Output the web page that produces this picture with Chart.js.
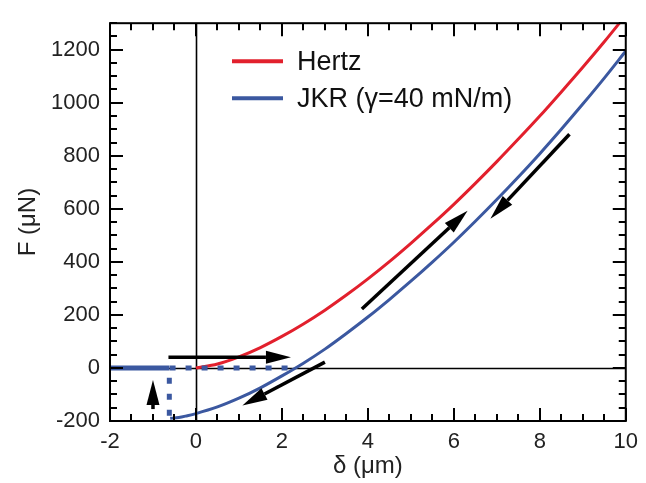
<!DOCTYPE html>
<html>
<head>
<meta charset="utf-8">
<script src="https://cdn.jsdelivr.net/npm/chart.js@4.4.1/dist/chart.umd.min.js"></script>
<style>
  html, body { margin: 0; padding: 0; background: #fff; }
</style>
</head>
<body>
<canvas id="chart" width="646" height="483"></canvas>
<script>
// values (delta in um, F in uN)
const hertzX = [0, 0.5, 1, 1.5, 2, 2.5, 3, 3.5, 4, 4.5, 5, 5.5, 6, 6.5, 7, 7.5, 8, 8.5, 9, 9.5, 10];
const hertzF = [0, 15, 42, 77, 119, 166, 218, 275, 336, 401, 470, 542, 617, 696, 778, 863, 950, 1041, 1134, 1230, 1330];

const jkrX = [-0.6, -0.4, -0.2, 0, 0.5, 1, 1.5, 2, 2.5, 3, 3.5, 4, 4.5, 5, 5.5, 6, 6.5, 7, 7.5, 8, 8.5, 9, 9.5, 10];
const jkrF = [-190, -187, -180, -172, -147, -114, -75, -30, 18, 71, 130, 192, 258, 327, 399, 474, 553, 635, 720, 808, 900, 995, 1093, 1195];

// jump-in path (dotted) and the free-approach line at F = 0
const jumpX = [-0.62, -0.62, 2.3];
const jumpF = [-180, 0, 0];
const baseX = [-2, -0.62];
const baseF = [0, 0];

// arrows: [x0, y0, x1 (tip), y1 (tip)]
const arrows = [
  [-0.64, 40, 2.21, 40],
  [-1.0, -155, -1.0, -45],
  [3.0, 22, 1.08, -142],
  [3.86, 222, 6.32, 593],
  [8.69, 881, 6.85, 563],
];

const xTicks = [-2, 0, 2, 4, 6, 8, 10];
const yTicks = [-200, 0, 200, 400, 600, 800, 1000, 1200];
const xMinorStep = 0.5;
const yMinorStep = 50;

const legendItems = [
  { label: "Hertz", color: "#e2202d" },
  { label: "JKR (\u03b3=40 mN/m)", color: "#3b58a0" },
];

const FONT = "'Liberation Sans', Arial, sans-serif";

function pts(xs, ys) {
  return xs.map((x, i) => ({ x, y: ys[i] }));
}

const decor = {
  id: "decor",
  beforeDatasetsDraw(chart) {
    const { ctx, chartArea: a, scales: { x, y } } = chart;
    ctx.save();
    ctx.strokeStyle = "#000";
    ctx.lineWidth = 1.6;
    ctx.beginPath();
    const x0 = Math.round(x.getPixelForValue(0)) + 0.5;
    const y0 = Math.round(y.getPixelForValue(0)) + 0.5;
    ctx.moveTo(x0, a.top);
    ctx.lineTo(x0, a.bottom);
    ctx.moveTo(a.left, y0);
    ctx.lineTo(a.right, y0);
    ctx.stroke();
    ctx.restore();
  },
  afterDatasetsDraw(chart) {
    const { ctx, chartArea: a, scales: { x, y } } = chart;
    ctx.save();

    // arrows
    ctx.strokeStyle = "#000";
    ctx.fillStyle = "#000";
    ctx.lineWidth = 3.5;
    arrows.forEach(([ax, ay, bx, by]) => {
      const px0 = x.getPixelForValue(ax), py0 = y.getPixelForValue(ay);
      const px1 = x.getPixelForValue(bx), py1 = y.getPixelForValue(by);
      const ang = Math.atan2(py1 - py0, px1 - px0);
      const hl = 25, hw = 6.5;
      const bxp = px1 - hl * Math.cos(ang), byp = py1 - hl * Math.sin(ang);
      ctx.beginPath();
      ctx.moveTo(px0, py0);
      ctx.lineTo(bxp, byp);
      ctx.stroke();
      ctx.beginPath();
      ctx.moveTo(px1, py1);
      ctx.lineTo(bxp + hw * Math.sin(ang), byp - hw * Math.cos(ang));
      ctx.lineTo(bxp - hw * Math.sin(ang), byp + hw * Math.cos(ang));
      ctx.closePath();
      ctx.fill();
    });

    // legend
    ctx.font = "27px " + FONT;
    ctx.textBaseline = "middle";
    legendItems.forEach((it, i) => {
      const ly = a.top + 38 + i * 37;
      ctx.strokeStyle = it.color;
      ctx.lineWidth = 4;
      ctx.beginPath();
      ctx.moveTo(a.left + 122, ly);
      ctx.lineTo(a.left + 173, ly);
      ctx.stroke();
      ctx.fillStyle = "#111";
      ctx.fillText(it.label, a.left + 187, ly + 1);
    });

    // frame
    ctx.strokeStyle = "#000";
    ctx.lineWidth = 2;
    ctx.strokeRect(a.left, a.top, a.right - a.left, a.bottom - a.top);

    // inward ticks on all four sides
    ctx.lineWidth = 2;
    ctx.beginPath();
    for (let v = x.min; v <= x.max + 1e-9; v += xMinorStep) {
      const px = Math.round(x.getPixelForValue(v));
      const len = xTicks.includes(Math.round(v * 100) / 100) ? 13 : 7;
      ctx.moveTo(px, a.bottom);
      ctx.lineTo(px, a.bottom - len);
      ctx.moveTo(px, a.top);
      ctx.lineTo(px, a.top + len);
    }
    for (let v = y.min; v <= y.max + 1e-9; v += yMinorStep) {
      const py = Math.round(y.getPixelForValue(v));
      const len = yTicks.includes(v) ? 13 : 7;
      ctx.moveTo(a.left, py);
      ctx.lineTo(a.left + len, py);
      ctx.moveTo(a.right, py);
      ctx.lineTo(a.right - len, py);
    }
    ctx.stroke();
    ctx.restore();
  },
};

new Chart(document.getElementById("chart"), {
  type: "scatter",
  data: {
    datasets: [
      {
        label: "base",
        data: pts(baseX, baseF),
        showLine: true,
        borderColor: "#3b58a0",
        borderWidth: 5,
        pointRadius: 0,
        borderCapStyle: "butt",
      },
      {
        label: "jump",
        data: pts(jumpX, jumpF),
        showLine: true,
        borderColor: "#3b58a0",
        borderWidth: 5,
        borderDash: [6, 10],
        pointRadius: 0,
      },
      {
        label: "Hertz",
        data: pts(hertzX, hertzF),
        showLine: true,
        borderColor: "#e2202d",
        borderWidth: 3,
        pointRadius: 0,
        cubicInterpolationMode: "monotone",
      },
      {
        label: "JKR",
        data: pts(jkrX, jkrF),
        showLine: true,
        borderColor: "#3b58a0",
        borderWidth: 3,
        pointRadius: 0,
        cubicInterpolationMode: "monotone",
      },
    ],
  },
  options: {
    responsive: false,
    animation: false,
    devicePixelRatio: 1,
    layout: { padding: { left: 0, top: 15, right: 14, bottom: 0 } },
    plugins: { legend: { display: false }, tooltip: { enabled: false } },
    scales: {
      x: {
        type: "linear",
        min: -2,
        max: 10,
        grid: { display: false, drawTicks: false },
        border: { display: false },
        afterBuildTicks: (s) => { s.ticks = xTicks.map((v) => ({ value: v })); },
        afterFit: (s) => { s.height = 62; },
        ticks: {
          padding: 8,
          color: "#222",
          font: { family: FONT, size: 22 },
          callback: (v) => String(v),
        },
        title: {
          display: true,
          text: "\u03b4 (\u03bcm)",
          color: "#222",
          font: { family: FONT, size: 24 },
          padding: { top: 0, bottom: 2 },
        },
      },
      y: {
        type: "linear",
        min: -200,
        max: 1300,
        grid: { display: false, drawTicks: false },
        border: { display: false },
        afterBuildTicks: (s) => { s.ticks = yTicks.map((v) => ({ value: v })); },
        afterFit: (s) => { s.width = 110; },
        ticks: {
          padding: 10,
          color: "#222",
          font: { family: FONT, size: 22 },
          callback: (v) => String(v),
        },
        title: {
          display: true,
          text: "F (\u03bcN)",
          color: "#222",
          font: { family: FONT, size: 24 },
          padding: { top: 14, bottom: 0 },
        },
      },
    },
  },
  plugins: [decor],
});
</script>
</body>
</html>
